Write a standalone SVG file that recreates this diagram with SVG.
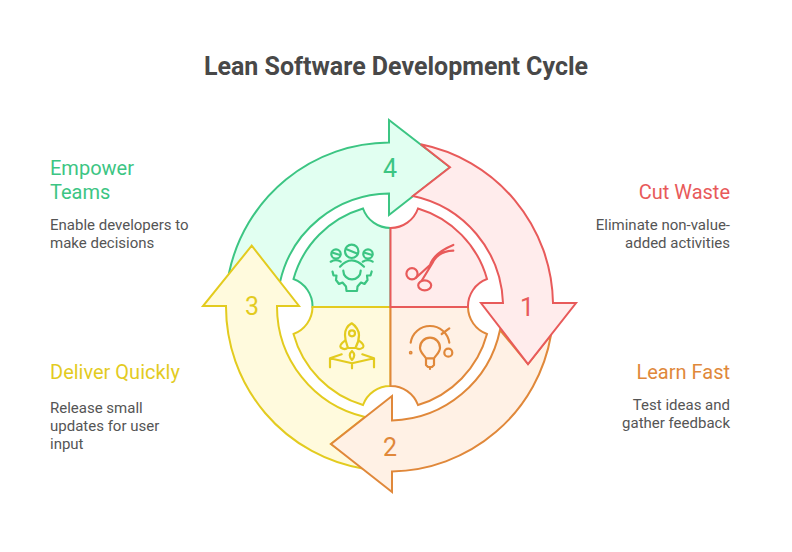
<svg xmlns="http://www.w3.org/2000/svg" width="792" height="552" viewBox="0 0 792 552">
<style>
text{font-family:Roboto,"Liberation Sans",sans-serif}
.t{font-size:25px;font-weight:700;fill:#484848}
.h{font-size:20px}
.b{font-size:15px;fill:#555}
.n{font-size:25px;text-anchor:middle}
.e{text-anchor:end}
.s{stroke-width:2;stroke-linejoin:miter}
.i{fill:none;stroke-width:2.200;stroke-linecap:round;stroke-linejoin:round}
.g{stroke:#3cc583}.gf{fill:#e1fff1}.gt{fill:#3cc583}
.y{stroke:#e3cb1f}.yf{fill:#fffadd}.yt{fill:#e3cb1f}
.o{stroke:#e0883a}.of{fill:#fff1e5}.ot{fill:#e0883a}
.r{stroke:#e85a5a}.rf{fill:#ffecec}.rt{fill:#e85a5a}
</style>
<rect width="792" height="552" fill="#fff"/>
<text class="t" x="396" y="75" text-anchor="middle">Lean Software Development Cycle</text>
<g id="connectors">
<path id="arrow-4" class="s g gf" d="M229,273A164.5,164.5 0 0 1 389,142.500V120L450,167.300L389,215V193.500A113.500,113.500 0 0 0 280,282Z"/>
<path id="arrow-3" class="s y yf" d="M226,306H203L251.700,245.700L299,306H277A113.500,113.500 0 0 0 365,417L331,444L365,469A164.500,164.500 0 0 1 226,306Z"/>
<path id="arrow-2" class="s o of" d="M551,335A164.500,164.500 0 0 1 392,471.500V492L331,444L392,396V420.500A113.500,113.500 0 0 0 500,330L528,364Z"/>
<path id="arrow-1" class="s r rf" d="M420.700,144.300A164.500,164.500 0 0 1 553,303H576L528,364L481,303H503A113.500,113.500 0 0 0 413,196L450,167.300Z"/>
</g>
<g id="node-empower">
<path class="s g gf" d="M312.500,307A29,29 0 0 0 293.500,279A102,102 0 0 1 363,208.500A29,29 0 0 0 390.500,228V307Z"/>
<g class="i g"><circle cx="351.700" cy="251.300" r="6.700"/><path d="M346,249L357,253.500"/><circle cx="336" cy="254" r="4.700"/><path d="M332,252.500L340,255"/><circle cx="368" cy="254" r="4.700"/><path d="M364,252.500L372,255"/><path d="M330.700,261.700Q336,258.500 340.700,261.700M362.700,261.700Q368,258.500 372.700,261.700M340,266.700Q351.700,254 364,266.700M343.300,270.700A8.700,8.700 0 0 0 360.700,270.700"/><path d="M332.500,271.500L333.500,275.500L336.500,275.500L336,280L339,284L342.500,282.500L346,286.500L346.500,291H357L357.500,286.500L361,282.500L364.500,284L367.500,280L367,275.500L370.500,275.500L371.700,271.500"/></g>
<text class="h gt" x="50" y="175">Empower</text><text class="h gt" x="50" y="199">Teams</text>
<text class="b" x="50" y="230">Enable developers to</text><text class="b" x="50" y="248">make decisions</text>
<text class="n gt" x="390" y="177">4</text>
</g>
<g id="node-deliver">
<path class="s y yf" d="M312.500,307A29,29 0 0 1 293.500,334A102,102 0 0 0 363,405A29,29 0 0 1 390.500,386V307Z"/>
<g class="i y"><path d="M351.700,323.300C347,326 345,331 345,335C345,341 347,345 348,348H355.400C357,345 359,341 359,335C359,331 356,326 351.700,323.300Z"/><circle cx="352" cy="333.300" r="3"/><path d="M345,340.700Q339,345 340.700,347.500Q344,350 346.700,348.500M359,340.700Q365,345 363,347.500Q360,350 357,348.500M352,351Q347.500,355 352,360Q356.500,355 352,351Z"/><path d="M330,367.300V358.300L341.700,354.300M330,358.300L352,363.300L374,358.300L362.300,354.300M374,358.300V367.300M352,363.300V368.300"/></g>
<text class="h yt" x="50" y="379">Deliver Quickly</text>
<text class="b" x="50" y="413">Release small</text><text class="b" x="50" y="431">updates for user</text><text class="b" x="50" y="449">input</text>
<text class="n yt" x="252" y="315">3</text>
</g>
<g id="node-learn">
<path class="s o of" d="M390.500,386A29,29 0 0 1 418,405A102,102 0 0 0 487,334A29,29 0 0 1 468,307H390.500Z"/>
<g class="i o"><path d="M410.700,342.700A19.500,19.500 0 0 1 449.300,342.700M441.700,334L449.300,328.300"/><circle cx="410.700" cy="352.700" r=".8"/><circle cx="448.300" cy="352.700" r="4"/><path d="M426,358.300C423,354 420,352 420,347.700A10,10 0 0 1 440,347.700C440,352 437,354 434,358.300ZM426,358.300V365L428,367H432L434,365V358.300M430,367V369"/></g>
<text class="h ot e" x="730" y="379">Learn Fast</text>
<text class="b e" x="730" y="410">Test ideas and</text><text class="b e" x="730" y="428">gather feedback</text>
<text class="n ot" x="390" y="456">2</text>
</g>
<g id="node-cut">
<path class="s r rf" d="M390.500,228A29,29 0 0 0 418,208.500A102,102 0 0 1 487,279A29,29 0 0 0 468,307H390.500Z"/>
<g class="i r"><circle cx="412" cy="273.700" r="5.600"/><ellipse cx="424.700" cy="285.300" rx="6.500" ry="5"/><path d="M416,277.700L430,265Q434,253 453.300,245M421.700,280.700L432.300,263.300Q438,251 453.300,250.700"/></g>
<text class="h rt e" x="730" y="199">Cut Waste</text>
<text class="b e" x="730" y="230">Eliminate non-value-</text><text class="b e" x="730" y="248">added activities</text>
<text class="n rt" x="527" y="316">1</text>
</g>
</svg>
